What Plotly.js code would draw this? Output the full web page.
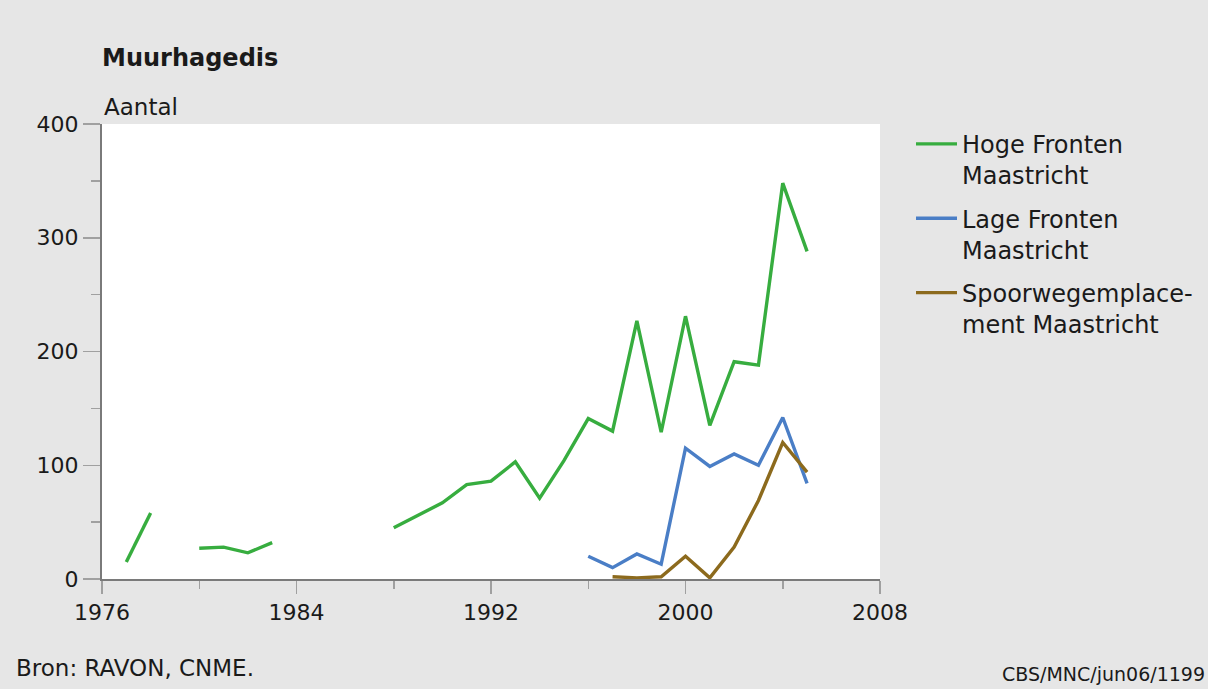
<!DOCTYPE html>
<html>
<head>
<meta charset="utf-8">
<script src="https://cdn.plot.ly/plotly-3.0.1.min.js"></script>
<style>html,body{margin:0;padding:0;background:#e6e6e6;}#chart{width:1208px;height:689px;}</style>
</head>
<body>
<div id="chart"></div>
<script>
const yearsHoge = [1977,1978,1979,1980,1981,1982,1983,1984,1985,1986,1987,1988,1989,1990,1991,1992,1993,1994,1995,1996,1997,1998,1999,2000,2001,2002,2003,2004,2005];
const hogeFronten = [15,58,null,27,28,23,32,null,null,null,null,45,56,67,83,86,103,71,104,141,130,227,129,231,135,191,188,348,288];
const yearsLage = [1996,1997,1998,1999,2000,2001,2002,2003,2004,2005];
const lageFronten = [20,10,22,13,115,99,110,100,142,84];
const yearsSpoor = [1997,1998,1999,2000,2001,2002,2003,2004,2005];
const spoorweg = [2,1,2,20,1,28,69,120,94];
const seriesNames = ["Hoge Fronten<br>Maastricht","Lage Fronten<br>Maastricht","Spoorwegemplace-<br>ment Maastricht"];
const xTicks = [1976,1984,1992,2000,2008];
const yTicks = [0,100,200,300,400];

const F = "DejaVu Sans, sans-serif";
const colors = ["#37ad3f","#4a7ec6","#8c6a1d"];

const traces = [
  {x: yearsHoge, y: hogeFronten, name: seriesNames[0], legendgroup: "a"},
  {x: yearsLage, y: lageFronten, name: seriesNames[1], legendgroup: "b"},
  {x: yearsSpoor, y: spoorweg, name: seriesNames[2], legendgroup: "c"}
].map((t,i) => Object.assign(t, {type: "scatter", mode: "lines", connectgaps: false,
  line: {color: colors[i], width: 3.4}, hoverinfo: "skip"}));

const layout = {
  width: 1208, height: 689,
  paper_bgcolor: "#e6e6e6", plot_bgcolor: "#ffffff",
  margin: {l: 102, r: 328, t: 124, b: 110, autoexpand: false},
  font: {family: F, size: 22, color: "#1a1a1a"},
  showlegend: true,
  title: {text: "<b>Muurhagedis</b>", font: {family: F, size: 24, color: "#1a1a1a"},
    xref: "paper", x: 0, xanchor: "left", yref: "container", y: 1 - 58/689, yanchor: "middle"},
  xaxis: {range: [1976, 2008], tickvals: xTicks, ticktext: xTicks.map(String),
    showgrid: false, zeroline: false, showline: true, linecolor: "#7a7a7a", linewidth: 2,
    ticks: "outside", ticklen: 13, tickwidth: 1.5, tickcolor: "#a0a0a0",
    minor: {dtick: 4, tick0: 1976, ticks: "outside", ticklen: 8, tickwidth: 1.5, tickcolor: "#a0a0a0", showgrid: false},
    tickfont: {family: F, size: 22, color: "#1a1a1a"}, fixedrange: true, automargin: false},
  yaxis: {range: [0, 400], tickvals: yTicks, ticktext: yTicks.map(String),
    showgrid: false, zeroline: false, showline: true, linecolor: "#7a7a7a", linewidth: 2,
    ticks: "outside", ticklen: 17, tickwidth: 1.5, tickcolor: "#a0a0a0",
    minor: {dtick: 50, tick0: 0, ticks: "outside", ticklen: 9, tickwidth: 1.5, tickcolor: "#a0a0a0", showgrid: false},
    tickfont: {family: F, size: 22, color: "#1a1a1a"}, fixedrange: true, automargin: false},
  legend: {x: 1 + 31/778, xanchor: "left", y: 1.005, yanchor: "top", bgcolor: "rgba(0,0,0,0)",
    font: {family: F, size: 24, color: "#1a1a1a"}, traceorder: "grouped", tracegroupgap: 9,
    itemwidth: 41, valign: "top"},
  annotations: [
    {text: "Aantal", xref: "paper", yref: "paper", x: 0, xanchor: "left", y: 1, yanchor: "bottom", yshift: 2,
      showarrow: false, font: {family: F, size: 23, color: "#1a1a1a"}},
    {text: "Bron: RAVON, CNME.", xref: "paper", yref: "paper", x: -88/778, xanchor: "left",
      y: -89/455, yanchor: "middle", showarrow: false, font: {family: F, size: 23, color: "#1a1a1a"}},
    {text: "CBS/MNC/jun06/1199", xref: "paper", yref: "paper", x: 898/778, xanchor: "left",
      y: -95/455, yanchor: "middle", showarrow: false, font: {family: F, size: 19, color: "#1a1a1a"}}
  ]
};

Plotly.newPlot("chart", traces, layout, {staticPlot: true, displayModeBar: false});
</script>
</body>
</html>
